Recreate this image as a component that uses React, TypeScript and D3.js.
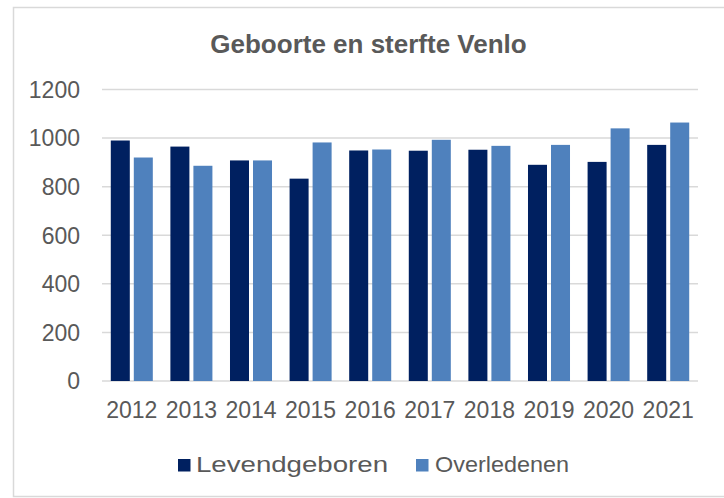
import * as d3 from "d3";

const years = ["2012", "2013", "2014", "2015", "2016", "2017", "2018", "2019", "2020", "2021"];
const levendgeboren = [990, 965, 908, 833, 949, 948, 952, 890, 902, 972];
const overledenen = [920, 886, 908, 982, 953, 993, 968, 972, 1040, 1064];
const yTicks = [0, 200, 400, 600, 800, 1000, 1200];
const seriesNames = ["Levendgeboren", "Overledenen"];

const DARK = "#002060";
const LIGHT = "#4f81bd";
const TEXT = "#595959";
const GRID = "#d9d9d9";
const FONT = "'Liberation Sans', Arial, sans-serif";

export default function App() {
  const W = 724;
  const H = 498;
  const left = 102;
  const right = 698;

  const x = d3.scaleBand<string>().domain(years).range([left, right]).paddingInner(0.295).paddingOuter(0.1475);
  const xs = d3.scaleBand<string>().domain(seriesNames).range([0, x.bandwidth()]).paddingInner(0.174);
  const y = d3.scaleLinear().domain([0, 1200]).range([381, 89.5]);

  const series = [
    { name: seriesNames[0], values: levendgeboren, color: DARK },
    { name: seriesNames[1], values: overledenen, color: LIGHT },
  ];

  return (
    <svg width={W} height={H} style={{ position: "absolute", left: 0, top: 0 }} fontFamily={FONT}>
      <rect x={0} y={0} width={W} height={H} fill="#fff" />
      {/* outer frame */}
      <rect x={13.5} y={7.5} width={730} height={489} fill="none" stroke={GRID} strokeWidth={1.5} />

      <text x={368.5} y={53} textAnchor="middle" fontSize={26} fontWeight="bold" fill={TEXT}>
        Geboorte en sterfte Venlo
      </text>

      {/* gridlines */}
      {yTicks.map((t) => (
        <line key={t} x1={left} x2={right} y1={y(t)} y2={y(t)} stroke={GRID} strokeWidth={1.5} />
      ))}
      {yTicks.map((t) => (
        <text key={"l" + t} x={80} y={y(t)} dy="0.36em" textAnchor="end" fontSize={23} fill={TEXT}>
          {t}
        </text>
      ))}

      {/* bars */}
      {series.map((s) =>
        years.map((yr, i) => (
          <rect
            key={s.name + yr}
            x={x(yr)! + xs(s.name)!}
            y={y(s.values[i])}
            width={xs.bandwidth()}
            height={y(0) - y(s.values[i])}
            fill={s.color}
          />
        ))
      )}

      {years.map((yr) => (
        <text key={"x" + yr} x={x(yr)! + x.bandwidth() / 2} y={418} textAnchor="middle" fontSize={23} fill={TEXT}>
          {yr}
        </text>
      ))}

      {/* legend */}
      <rect x={178} y={459} width={12.5} height={12.5} fill={DARK} />
      <text x={196} y={472} fontSize={22} fill={TEXT} textLength={192} lengthAdjust="spacingAndGlyphs">
        {seriesNames[0]}
      </text>
      <rect x={416} y={459} width={12.5} height={12.5} fill={LIGHT} />
      <text x={435} y={472} fontSize={22} fill={TEXT} textLength={134} lengthAdjust="spacingAndGlyphs">
        {seriesNames[1]}
      </text>
    </svg>
  );
}
